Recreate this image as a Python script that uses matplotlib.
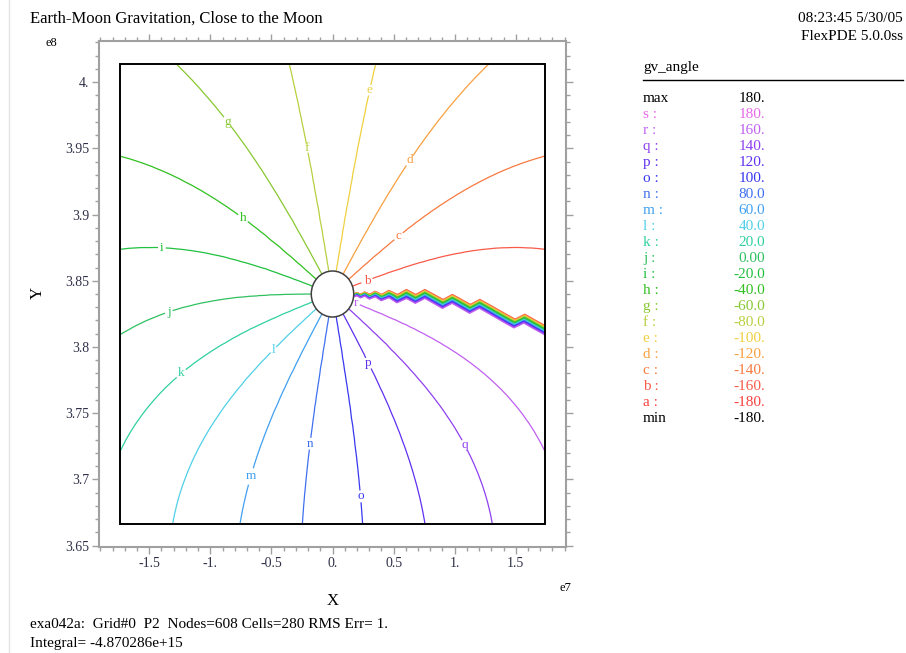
"""Direction of the combined Earth + Moon gravity field in a square around the Moon."""

import numpy as np
import matplotlib

matplotlib.use("Agg")
import matplotlib.pyplot as plt
import matplotlib.tri as mtri
from matplotlib.lines import Line2D
from matplotlib.patches import Ellipse, Rectangle
from matplotlib.ticker import FuncFormatter, MultipleLocator

plt.rcParams["font.family"] = ["Liberation Serif", "DejaVu Serif"]

# physical setup (SI units), Earth sits at the origin
GM_EARTH = 3.986e14
GM_MOON = 4.903e12
MOON_DIST = 3.84e8
MOON_RADIUS = 1.737e6
BOX_HALF = 10 * MOON_RADIUS

# contour levels of gv_angle and their FlexPDE letters / colours
LEVELS = [-180, -160, -140, -120, -100, -80, -60, -40, -20, 0,
          20, 40, 60, 80, 100, 120, 140, 160, 180]
LETTERS = list("abcdefghijklmnopqrs")
COLORS = ["#f84040", "#f85a4a", "#f87a40", "#f8a040", "#f0d040",
          "#b8d040", "#88c830", "#30c020", "#20c040", "#30c060",
          "#30d0a0", "#50d0e8", "#40a0f0", "#4070f0", "#3838f0",
          "#6030f0", "#9040f0", "#c060f0", "#e868e8"]

# where the letter tags sit along the lines (b .. r)
LABEL_X = [2.86e6, 5.47e6, 6.29e6, 3.02e6, -2.12e6, -8.74e6, -7.43e6, -13.97e6,
           -13.3e6, -12.3e6, -4.74e6, -6.6e6, -1.88e6, 2.12e6, 2.78e6, 10.7e6, 1.8e6]
LABEL_Y = [3.849e8, 3.883e8, 3.941e8, 3.994e8, 3.950e8, 3.969e8, 3.896e8, 3.874e8,
           3.824e8, 3.779e8, 3.797e8, 3.702e8, 3.727e8, 3.687e8, 3.787e8, 3.725e8, 3.831e8]

FIELD_MAX = 180.0
FIELD_MIN = -180.0

W, H = 906, 653


def fig_xy(px, py):
    return px / W, 1 - py / H


def gravity_angle(x, y):
    r_e = np.hypot(x, y)
    gx = -GM_EARTH * x / r_e**3
    gy = -GM_EARTH * y / r_e**3
    dy = y - MOON_DIST
    r_m = np.hypot(x, dy)
    gx -= GM_MOON * x / r_m**3
    gy -= GM_MOON * dy / r_m**3
    return np.degrees(np.arctan2(gy, gx))


def ring_mesh(r0, r1, h):
    """Rings of nodes around the moon, spacing grows until it reaches h."""
    xs, ys = [], []
    r, k = r0, 0
    while r < r1:
        n = max(48, int(np.ceil(2 * np.pi * r / h)))
        t = np.arange(n) * 2 * np.pi / n + (k % 2) * np.pi / n
        xs.append(r * np.cos(t))
        ys.append(MOON_DIST + r * np.sin(t))
        r += min(0.15 * r, h)
        k += 1
    return np.concatenate(xs), np.concatenate(ys)


def tick_text(v):
    if abs(v) < 1e-9:
        v = 0.0
    s = f"{v:.4g}"
    if "." not in s:
        s += "."
    return s


fig = plt.figure(figsize=(W / 100, H / 100), dpi=100)
ax = fig.add_axes([99 / W, 1 - 547 / H, 467 / W, 506 / H])

px, py = ring_mesh(MOON_RADIUS, 2.7e7, 0.75e6)
tri = mtri.Triangulation(px, py)
cx = px[tri.triangles].mean(axis=1)
cy = py[tri.triangles].mean(axis=1)
tri.set_mask(np.hypot(cx, cy - MOON_DIST) < MOON_RADIUS)
A = gravity_angle(px, py)

cs = ax.tricontour(tri, A, levels=LEVELS, colors=COLORS, linewidths=0.9)
box = Rectangle((-BOX_HALF, MOON_DIST - BOX_HALF), 2 * BOX_HALF, 2 * BOX_HALF,
                fill=False, ec="black", lw=1.4, zorder=3)
ax.add_patch(box)
cs.set_clip_path(box)

labels = ax.clabel(cs, fmt=dict(zip(LEVELS, LETTERS)),
                   manual=list(zip(LABEL_X, LABEL_Y)), inline=True,
                   inline_spacing=1, fontsize=9.5)
for t in labels:
    t.set_rotation(0)

ax.add_patch(Ellipse((0, MOON_DIST), 2 * MOON_RADIUS, 2 * MOON_RADIUS,
                     fc="white", ec="#404040", lw=1.1, zorder=4))

lim = 1.1 * BOX_HALF
ax.set_xlim(-lim, lim)
ax.set_ylim(MOON_DIST - lim, MOON_DIST + lim)

ax.xaxis.set_major_locator(MultipleLocator(5e6))
ax.xaxis.set_minor_locator(MultipleLocator(1e6))
ax.yaxis.set_major_locator(MultipleLocator(5e6))
ax.yaxis.set_minor_locator(MultipleLocator(1e6))
ax.xaxis.set_major_formatter(FuncFormatter(lambda v, p: tick_text(v / 1e7)))
ax.yaxis.set_major_formatter(FuncFormatter(lambda v, p: tick_text(v / 1e8)))

for s in ax.spines.values():
    s.set_color("#a0a0a0")
    s.set_linewidth(1.5)
ax.tick_params(which="both", direction="out", color="#a0a0a0", width=1,
               top=True, right=True, labeltop=False, labelright=False,
               labelsize=10, labelcolor="#303048")
ax.tick_params(which="major", length=5, pad=2)
ax.tick_params(which="minor", length=3)

# header, axis names and exponents
fig.text(*fig_xy(30, 19), "Earth-Moon Gravitation, Close to the Moon",
         fontsize=12, va="center", ha="left")
fig.text(*fig_xy(903, 18), "08:23:45 5/30/05", fontsize=11, va="center", ha="right")
fig.text(*fig_xy(903, 36), "FlexPDE 5.0.0ss", fontsize=11, va="center", ha="right")
fig.text(*fig_xy(51, 43), "e8", fontsize=9, va="center", ha="center")
fig.text(*fig_xy(565, 588), "e7", fontsize=9, va="center", ha="center")
fig.text(*fig_xy(333, 601), "X", fontsize=12, va="center", ha="center")
fig.text(*fig_xy(38, 293), "Y", fontsize=12, va="center", ha="center", rotation=90)

# footer
fig.text(*fig_xy(30, 625), "exa042a:  Grid#0  P2  Nodes=608 Cells=280 RMS Err= 1.",
         fontsize=11, va="center", ha="left")
fig.text(*fig_xy(30, 643), "Integral= -4.870286e+15", fontsize=11, va="center", ha="left")

# level table on the right
fig.text(*fig_xy(643, 68), "gv_angle", fontsize=11, va="center", ha="left")
fig.add_artist(Line2D([643 / W, 903 / W], [1 - 80 / H, 1 - 80 / H],
                      color="black", lw=1))
rows = [("max", f"{FIELD_MAX:#.3g}", "black")]
for lev, let, col in reversed(list(zip(LEVELS, LETTERS, COLORS))):
    rows.append((f"{let} :", f"{lev:#.3g}", col))
rows.append(("min", f"{FIELD_MIN:#.3g}", "black"))
for i, (name, val, col) in enumerate(rows):
    y = 98 + i * 16.05
    fig.text(*fig_xy(643, y), name, fontsize=11, va="center", ha="left", color=col)
    fig.text(*fig_xy(765, y), val, fontsize=11, va="center", ha="right", color=col)

# thin page border on the left
fig.add_artist(Line2D([9 / W, 9 / W], [0, 1], color="#e4e4e4", lw=1))

fig.savefig("out.png", dpi=100)
